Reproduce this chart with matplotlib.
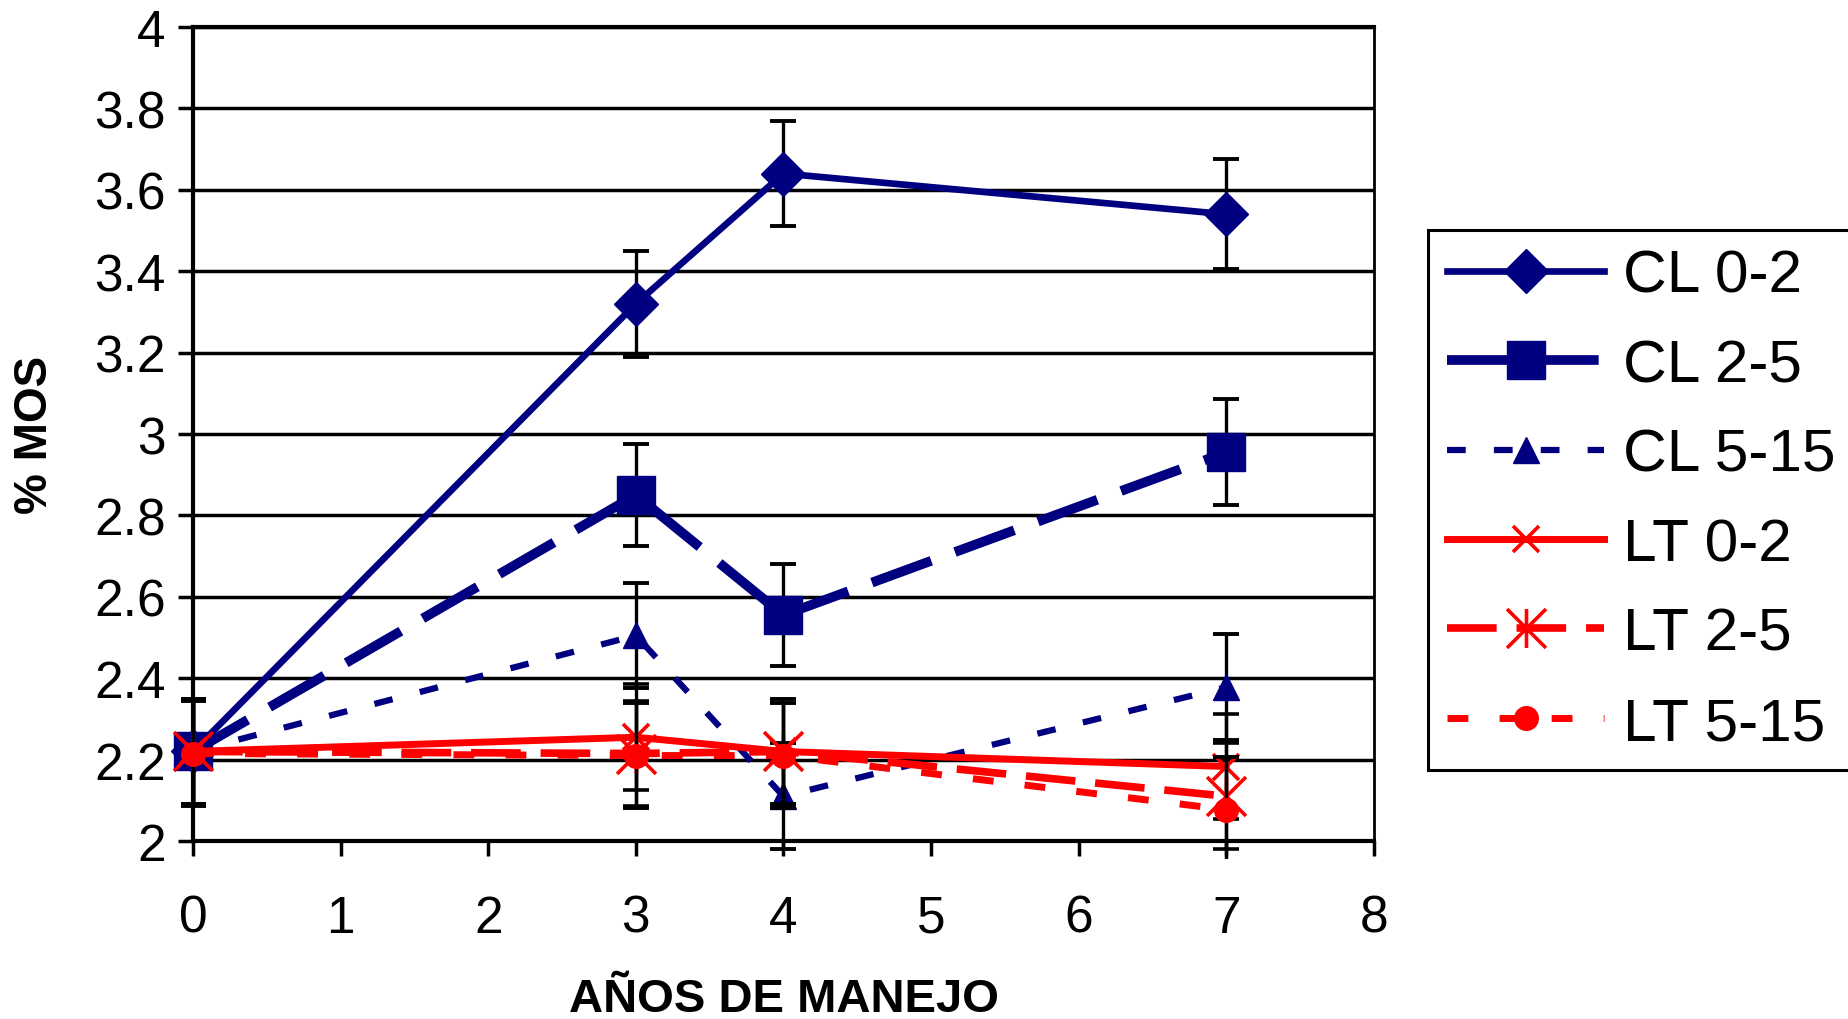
import matplotlib
matplotlib.use('Agg')
import matplotlib.pyplot as plt
from matplotlib.path import Path
from matplotlib.transforms import Bbox, TransformedBbox
from matplotlib.ticker import FuncFormatter

plt.rcParams['font.family'] = ['Liberation Sans', 'DejaVu Sans']

# --- datos ---
anios = [0, 3, 4, 7]
etiquetas = ['CL 0-2', 'CL 2-5', 'CL 5-15', 'LT 0-2', 'LT 2-5', 'LT 5-15']

cl_0_2 = [2.22, 3.32, 3.64, 3.54]
cl_2_5 = [2.22, 2.85, 2.555, 2.955]
cl_5_15 = [2.22, 2.505, 2.11, 2.378]
lt_0_2 = [2.22, 2.255, 2.22, 2.183]
lt_2_5 = [2.22, 2.215, 2.22, 2.11]
lt_5_15 = [2.215, 2.21, 2.21, 2.077]

err_cl_0_2 = [0.13, 0.13, 0.13, 0.135]
err_cl_2_5 = [0.13, 0.125, 0.125, 0.13]
err_cl_5_15 = [0.13, 0.13, 0.13, 0.13]
err_lt_0_2 = [0.13, 0.13, 0.13, 0.13]
err_lt_2_5 = [0.13, 0.13, 0.13, 0.13]
err_lt_5_15 = [0.13, 0.13, 0.13, 0.13]

AZUL = '#000080'
ROJO = '#FF0000'

# marcador estrella tipo Excel (x con linea vertical)
estrella = Path([(0, -1), (0, 1), (-1, -1), (1, 1), (-1, 1), (1, -1)],
                [Path.MOVETO, Path.LINETO] * 3)

estilos = [
    dict(color=AZUL, ls='-', lw=4.8, marker='D', ms=22),
    dict(color=AZUL, ls=(0, (6.5, 2.6)), lw=7, marker='s', ms=27),
    dict(color=AZUL, ls=(0, (3, 4.5)), lw=4.5, marker='^', ms=19),
    dict(color=ROJO, ls='-', lw=5, marker='x', ms=19, mew=2.6),
    dict(color=ROJO, ls=(0, (6.5, 2.6)), lw=5.5, marker=estrella, ms=28, mew=2.6),
    dict(color=ROJO, ls=(0, (3, 4.5)), lw=5, marker='o', ms=17),
]
valores = [cl_0_2, cl_2_5, cl_5_15, lt_0_2, lt_2_5, lt_5_15]
errores = [err_cl_0_2, err_cl_2_5, err_cl_5_15, err_lt_0_2, err_lt_2_5, err_lt_5_15]

fig = plt.figure(figsize=(18.49, 10.20), dpi=100)
fig.subplots_adjust(left=0.1044, right=0.743, top=0.9725, bottom=0.1745)
ax = fig.add_subplot(111)

# zona de recorte un poco mas grande que los ejes (como Excel)
caja = TransformedBbox(Bbox([[-0.01, -0.022], [1.01, 1.01]]), ax.transAxes)

handles = []
for i, (y, e, st) in enumerate(zip(valores, errores, estilos)):
    cont = ax.errorbar(anios, y, yerr=e, ecolor='black', elinewidth=2.4,
                       capsize=9.7, capthick=2.8, zorder=3 + i,
                       markeredgecolor=st['color'], markerfacecolor=st['color'],
                       dash_capstyle='butt', **st)
    for c in cont[1]:
        c.set_clip_box(caja)
    for c in cont[2]:
        c.set_clip_box(caja)
    cont[0].set_clip_on(False)
    handles.append(cont[0])

ax.set_xlim(0, 8)
ax.set_ylim(2, 4)
ax.set_xticks(range(0, 9))
ax.set_yticks([2 + 0.2 * k for k in range(11)])
ax.yaxis.set_major_formatter(FuncFormatter(lambda v, p: f'{v:g}'))

ax.yaxis.grid(True, color='black', lw=2.5)
ax.set_axisbelow(True)
for s in ['left', 'bottom', 'top']:
    ax.spines[s].set_linewidth(3)
ax.spines['right'].set_linewidth(2)

ax.tick_params(axis='both', direction='out', length=10.8, width=2.5, labelsize=37)
ax.tick_params(axis='x', pad=27)
ax.tick_params(axis='y', pad=9)

fig.text(35 / 1849, 1 - 435 / 1020, '% MOS', rotation=90, ha='center', va='center',
         fontsize=33, fontweight='bold')
fig.text(784 / 1849, 0.008, 'AÑOS DE MANEJO', ha='center', va='baseline',
         fontsize=34, fontweight='bold')

leg = fig.legend(handles, etiquetas, loc='upper left', bbox_to_anchor=(0.7723, 0.774),
                 fontsize=43.5, frameon=True, fancybox=False, framealpha=1,
                 edgecolor='black', borderaxespad=0, handlelength=2.6,
                 handletextpad=0.3, labelspacing=0.57, borderpad=0.32)
leg.get_frame().set_linewidth(2.2)

fig.savefig('out.png', dpi=100)
